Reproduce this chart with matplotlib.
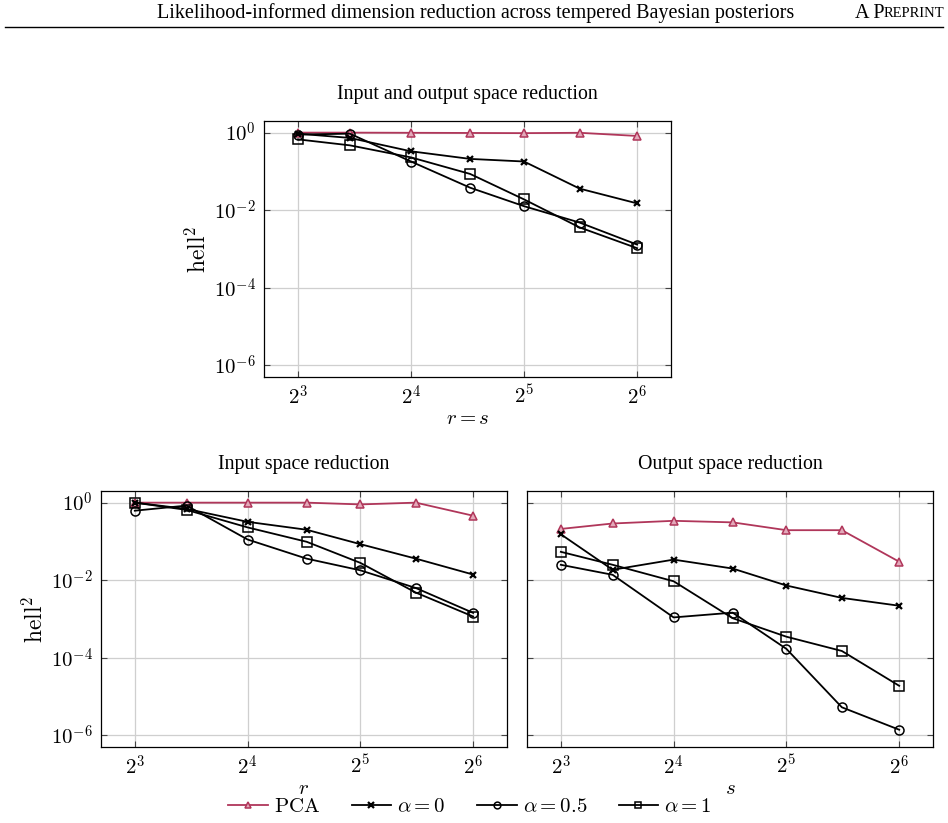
"""
Hellinger error vs reduced dimension for PCA and tempered LIS bases
Three panels: joint, input-only and output-only reduction
"""

import matplotlib
matplotlib.use('Agg')
import matplotlib.pyplot as plt
from matplotlib.ticker import FixedLocator, NullLocator

plt.rcParams['mathtext.fontset'] = 'cm'
plt.rcParams['font.family'] = ['Liberation Serif', 'DejaVu Serif']

# reduced dimension r / s
dims = [8, 11, 16, 23, 32, 45, 64]

# input and output space reduction (r = s)
both_pca = [1.0, 1.0, 0.99, 0.98, 0.97, 0.99, 0.82]
both_a0 = [0.94, 0.73, 0.33, 0.21, 0.18, 0.036, 0.015]
both_a05 = [0.89, 0.94, 0.18, 0.038, 0.0127, 0.0048, 0.0013]
both_a1 = [0.67, 0.47, 0.23, 0.086, 0.019, 0.0036, 0.00105]

# input space reduction (r)
inp_pca = [1.0, 1.0, 1.0, 1.0, 0.9, 1.0, 0.46]
inp_a0 = [1.0, 0.69, 0.32, 0.20, 0.085, 0.036, 0.014]
inp_a05 = [0.62, 0.84, 0.112, 0.036, 0.018, 0.0063, 0.00144]
inp_a1 = [1.0, 0.65, 0.23, 0.098, 0.028, 0.0048, 0.00116]

# output space reduction (s)
out_pca = [0.21, 0.29, 0.34, 0.31, 0.195, 0.195, 0.030]
out_a0 = [0.153, 0.0186, 0.034, 0.020, 0.0073, 0.0035, 0.0022]
out_a05 = [0.025, 0.0138, 0.0011, 0.00146, 0.00017, 5.3e-6, 1.4e-6]
out_a1 = [0.054, 0.025, 0.0094, 0.00105, 0.00035, 0.00015, 1.9e-5]

RED = '#B0365A'


def draw_panel(ax, pca, a0, a05, a1, title, xlabel, ylabel=True):
    ax.plot(dims, pca, color=RED, lw=1.3, marker='^', ms=6,
            mfc='#e3a9ba', mec=RED, mew=1.1, label=r'$\mathrm{PCA}$')
    ax.plot(dims, a0, color='black', lw=1.3, marker='x', ms=5,
            mew=1.6, label=r'$\alpha = 0$')
    ax.plot(dims, a05, color='black', lw=1.3, marker='o', ms=6.5,
            mfc='none', mew=1.1, label=r'$\alpha = 0.5$')
    ax.plot(dims, a1, color='black', lw=1.3, marker='s', ms=6.5,
            mfc='none', mew=1.1, label=r'$\alpha = 1$')

    ax.set_xscale('log', base=2)
    ax.set_yscale('log')
    ax.set_xlim(2 ** 2.7, 2 ** 6.3)
    ax.set_ylim(10 ** -6.3, 10 ** 0.3)

    ax.xaxis.set_major_locator(FixedLocator([8, 16, 32, 64]))
    ax.set_xticklabels([r'$2^{3}$', r'$2^{4}$', r'$2^{5}$', r'$2^{6}$'])
    ax.xaxis.set_minor_locator(NullLocator())
    ax.yaxis.set_major_locator(FixedLocator([1e-6, 1e-4, 1e-2, 1e0]))
    ax.yaxis.set_minor_locator(NullLocator())
    if ylabel:
        ax.set_yticklabels([r'$10^{-6}$', r'$10^{-4}$', r'$10^{-2}$', r'$10^{0}$'])
        ax.set_ylabel(r'$\mathrm{hell}^2$', fontsize=17, labelpad=2)
    else:
        ax.set_yticklabels([])

    ax.tick_params(direction='in', length=4, width=0.8, top=True, right=True,
                   labelsize=15, pad=6, color='#444444')
    ax.grid(True, color='#cfcfcf', lw=0.9)
    ax.set_axisbelow(True)
    for sp in ax.spines.values():
        sp.set_linewidth(0.9)

    ax.set_title(title, fontsize=14.3, pad=15.5)
    ax.set_xlabel(xlabel, fontsize=15, labelpad=0)


fig = plt.figure(figsize=(9.48, 8.23), dpi=100)

# page header
fig.text(0.502, 0.984, 'Likelihood-informed dimension reduction across tempered Bayesian posteriors',
         ha='center', va='center', fontsize=14.5)
fig.text(0.9335, 0.984, 'A P', ha='right', va='center', fontsize=14.5)
fig.text(0.996, 0.984, 'REPRINT', ha='right', va='center', fontsize=10.5)
fig.add_artist(plt.Line2D([0.005, 0.995], [0.967, 0.967], color='black', lw=1.0))

ax_top = fig.add_axes([0.2785, 0.5419, 0.4293, 0.3111])
ax_in = fig.add_axes([0.1065, 0.0923, 0.4283, 0.3111])
ax_out = fig.add_axes([0.5559, 0.0923, 0.4283, 0.3111])

draw_panel(ax_top, both_pca, both_a0, both_a05, both_a1,
           'Input and output space reduction', r'$r = s$')
draw_panel(ax_in, inp_pca, inp_a0, inp_a05, inp_a1,
           'Input space reduction', r'$r$')
draw_panel(ax_out, out_pca, out_a0, out_a05, out_a1,
           'Output space reduction', r'$s$', ylabel=False)

handles, labels = ax_in.get_legend_handles_labels()
fig.legend(handles, labels, loc='center', bbox_to_anchor=(0.496, 0.019),
           ncol=4, frameon=False, fontsize=15, handlelength=1.9,
           handletextpad=0.3, columnspacing=1.5, markerscale=0.75,
           borderpad=0.1)

plt.savefig('out.png', dpi=100)
